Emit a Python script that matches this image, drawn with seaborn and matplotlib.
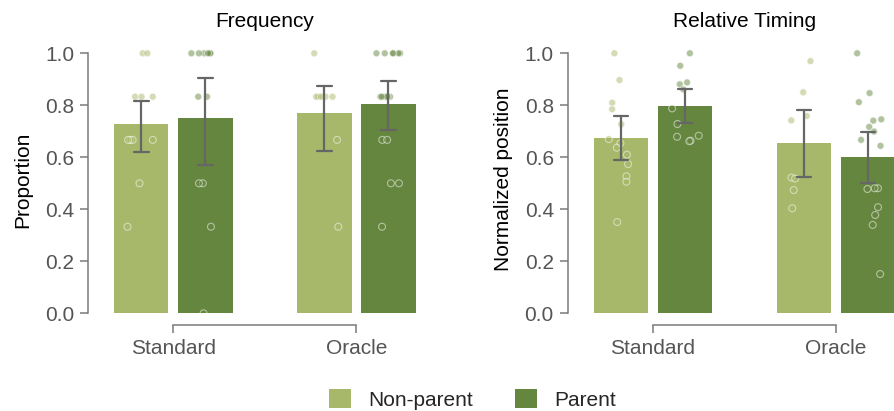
import numpy as np
import pandas as pd
import matplotlib
matplotlib.use("Agg")
import matplotlib.pyplot as plt
import seaborn as sns

# Categories
conditions = ["Standard", "Oracle"]
groups = ["Non-parent", "Parent"]
bar_colors = ["#a7b86a", "#65863e"]

# Frequency: proportion per participant
freq_standard_nonparent = [1.0, 1.0, 0.833, 0.833, 0.833, 0.667, 0.667, 0.667, 0.667, 0.5, 0.333]
freq_standard_parent = [1.0, 1.0, 1.0, 1.0, 1.0, 1.0, 0.833, 0.833, 0.5, 0.5, 0.333, 0.0]
freq_oracle_nonparent = [1.0, 0.833, 0.833, 0.833, 0.833, 0.833, 0.667, 0.333]
freq_oracle_parent = [1.0, 1.0, 1.0, 1.0, 1.0, 1.0, 0.833, 0.833, 0.833, 0.833, 0.833, 0.833,
                      0.667, 0.667, 0.5, 0.5, 0.333]

# Relative timing: normalized position per participant
timing_standard_nonparent = [1.0, 0.897, 0.81, 0.785, 0.727, 0.67, 0.654, 0.637, 0.61, 0.574,
                             0.527, 0.506, 0.351]
timing_standard_parent = [1.0, 0.952, 0.888, 0.881, 0.861, 0.788, 0.728, 0.683, 0.679, 0.664, 0.662]
timing_oracle_nonparent = [0.97, 0.85, 0.759, 0.742, 0.522, 0.518, 0.474, 0.404]
timing_oracle_parent = [1.0, 0.847, 0.812, 0.746, 0.741, 0.717, 0.699, 0.667, 0.644, 0.481, 0.481,
                        0.478, 0.408, 0.378, 0.34, 0.151]

panel_titles = ["Frequency", "Relative Timing"]
panel_ylabels = ["Proportion", "Normalized position"]
y_ticks = [0.0, 0.2, 0.4, 0.6, 0.8, 1.0]


def long_table(cells):
    rows = []
    for (cond, grp), vals in cells.items():
        for v in vals:
            rows.append({"condition": cond, "group": grp, "value": v})
    return pd.DataFrame(rows)


freq_df = long_table({
    ("Standard", "Non-parent"): freq_standard_nonparent,
    ("Standard", "Parent"): freq_standard_parent,
    ("Oracle", "Non-parent"): freq_oracle_nonparent,
    ("Oracle", "Parent"): freq_oracle_parent,
})
timing_df = long_table({
    ("Standard", "Non-parent"): timing_standard_nonparent,
    ("Standard", "Parent"): timing_standard_parent,
    ("Oracle", "Non-parent"): timing_oracle_nonparent,
    ("Oracle", "Parent"): timing_oracle_parent,
})

sns.set_style("ticks")
plt.rcParams["font.family"] = ["Liberation Sans", "DejaVu Sans"]
plt.rcParams["font.size"] = 15

GRAY_TEXT = "#555555"
GRAY_LINE = "#7a7a7a"
BAR_WIDTH = 0.7

np.random.seed(3)

fig = plt.figure(figsize=(8.94, 4.11), dpi=100)
ax_left = fig.add_axes([0.1119, 0.2377, 0.3686, 0.6516])
ax_right = fig.add_axes([0.6484, 0.2377, 0.3686, 0.6516])
axes = [ax_left, ax_right]

legend_handles, legend_labels = None, None
for i, (ax, df) in enumerate(zip(axes, [freq_df, timing_df])):
    sns.barplot(data=df, x="condition", y="value", hue="group", order=conditions,
                hue_order=groups, palette=bar_colors, saturation=1, width=BAR_WIDTH, gap=0.15,
                errorbar=("ci", 95), seed=7, capsize=0.16, linewidth=0,
                err_kws={"color": "#666666", "linewidth": 1.6, "zorder": 4},
                legend=(i == 0), ax=ax)
    if i == 0:
        leg = ax.get_legend()
        legend_handles = leg.legend_handles
        legend_labels = [t.get_text() for t in leg.get_texts()]
        leg.remove()

    n_before = len(ax.collections)
    sns.stripplot(data=df, x="condition", y="value", hue="group", order=conditions,
                  hue_order=groups, palette=bar_colors, dodge=True, jitter=0.16, size=5,
                  edgecolor="white", linewidth=0.8, alpha=0.5, zorder=3, legend=False, ax=ax)
    # stripplot dodges hue by +-0.2; pull points onto the narrower bar centres
    shift = 0.2 - BAR_WIDTH / 4
    for coll in ax.collections[n_before:]:
        offs = np.asarray(coll.get_offsets()).copy()
        if len(offs) == 0:
            continue
        rel = offs[:, 0] - np.round(offs[:, 0])
        offs[:, 0] += np.where(rel < 0, shift, -shift)
        coll.set_offsets(offs)

    ax.set_xlim(-0.4, 1.4)
    ax.set_ylim(0, 1.03)
    ax.set_yticks(y_ticks)
    ax.set_yticklabels([f"{t:.1f}" for t in y_ticks])
    ax.set_xlabel("")
    ax.set_ylabel(panel_ylabels[i], fontsize=15, color="black", labelpad=9 if i == 0 else 8)
    ax.set_title(panel_titles[i], fontsize=15, color="black", pad=13)
    ax.tick_params(axis="both", labelsize=15, labelcolor=GRAY_TEXT, color=GRAY_LINE,
                   length=6, width=1.1, pad=4)
    for sp in ax.spines.values():
        sp.set_color(GRAY_LINE)
        sp.set_linewidth(1.1)
    sns.despine(ax=ax, offset=8.6, trim=True)

fig.legend(legend_handles, legend_labels, loc="center", bbox_to_anchor=(472.5 / 894, 0.028),
           ncol=2, frameon=False, fontsize=15, handlelength=1.05, handleheight=1.0,
           handletextpad=0.83, columnspacing=2.05)

fig.savefig("out.png", dpi=100)
